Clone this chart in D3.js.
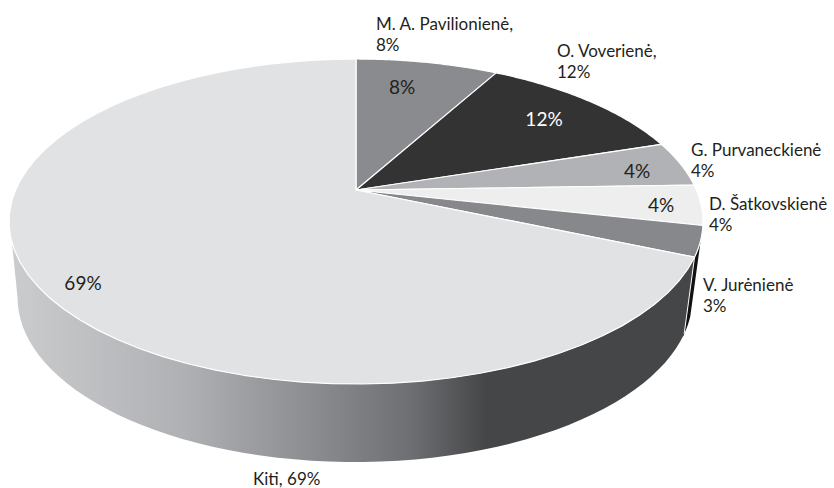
<!DOCTYPE html>
<meta charset="utf-8">
<script src="https://d3js.org/d3.v7.min.js"></script>
<style>
html, body { margin: 0; background: #fff; }
svg { display: block; }
text { font-family: Lato, "Open Sans", sans-serif; font-size: 17px; fill: #231f20; }
</style>
<body>
<script>
var names = ["M. A. Pavilionienė", "O. Voverienė", "G. Purvaneckienė", "D. Šatkovskienė", "V. Jurėnienė", "Kiti"];
var values = [8, 12, 4.49, 4, 3, 68.51];
var colors = ["#8a8b8e", "#333333", "#b1b2b5", "#eeeeee", "#87888b", "#e1e2e4"];
var inner = ["#231f20", "#ffffff", "#231f20", "#231f20", null, "#231f20"];

// outside labels, first line / second line
var outerLines = [
  ["M. A. Pavilionienė,", "8%"],
  ["O. Voverienė,", "12%"],
  ["G. Purvaneckienė", "4%"],
  ["D. Šatkovskienė", "4%"],
  ["V. Jurėnienė", "3%"],
  ["Kiti, 69%"]
];
var outerPos = [[376, 30], [557, 57], [691, 156], [709, 210], [703, 291], [253, 485]];
var innerPos = [[402, 94], [544, 126], [637, 178], [661, 212], null, [83, 290]];

var width = 834, height = 488;
var svg = d3.select("body").append("svg").attr("width", width).attr("height", height);

// the pie is seen in perspective, so the apex sits above the centre of the ellipse
var k = 0.194;
var top3d = { cx: 356, cy: 190, a: 340.4, b: 156.4 };
var low3d = { cx: 355, cy: 266, a: 331, b: 158 };

function project(p, ang, r) {
  var u = Math.sin(ang) * r, v = -Math.cos(ang) * r, w = 1 - k * v;
  return [p.cx + p.a * u / w, p.cy + p.b * v / w];
}

var pie = d3.pie().sort(null).value(function(d) { return d; });
var arcs = pie(values);
var line = d3.line();

function rimAngles(a0, a1) {
  return d3.range(0, 61).map(function(i) { return a0 + (a1 - a0) * i / 60; });
}
function rad(deg) { return deg * Math.PI / 180; }

var grad = svg.append("defs").append("linearGradient")
  .attr("id", "wall").attr("gradientUnits", "userSpaceOnUse")
  .attr("x1", 10).attr("x2", 700).attr("y1", 0).attr("y2", 0);
[[0, "#cbccce"], [0.25, "#b0b1b4"], [0.42, "#8f9093"], [0.58, "#6e6f72"], [0.69, "#454648"], [1, "#454648"]]
  .forEach(function(s) { grad.append("stop").attr("offset", s[0]).attr("stop-color", s[1]); });

var kiti = arcs[5];

// sliver of wall under V. Jurėnienė
var vj = arcs[4];
var vjAngles = rimAngles(vj.startAngle + (vj.endAngle - vj.startAngle) * 0.45, vj.endAngle + 0.02);
svg.append("path")
  .attr("d", line(vjAngles.map(function(a) { return project(top3d, a, 1); })
    .concat(vjAngles.slice().reverse().map(function(a) { return project(low3d, a, 1); }))) + "Z")
  .attr("fill", "#111111");

// side wall of the big slice, closed on the left by the silhouette edge
var wallTop = rimAngles(kiti.startAngle, rad(251.5));
var wallLow = rimAngles(kiti.startAngle, rad(258.8));
svg.append("path")
  .attr("d", line(wallTop.map(function(a) { return project(top3d, a, 1); })
    .concat(wallLow.slice().reverse().map(function(a) { return project(low3d, a, 1); }))) + "Z")
  .attr("fill", "url(#wall)");

// white edge between the two walls
svg.append("path")
  .attr("d", line([project(top3d, kiti.startAngle, 1), project(low3d, kiti.startAngle, 1)]))
  .attr("stroke", "#fff")
  .attr("stroke-width", 1)
  .attr("fill", "none");

// top face
svg.selectAll(".slice").data(arcs).enter().append("path")
  .attr("class", "slice")
  .attr("d", function(d) {
    var pts = rimAngles(d.startAngle, d.endAngle).map(function(a) { return project(top3d, a, 1); });
    pts.unshift(project(top3d, 0, 0));
    return line(pts) + "Z";
  })
  .attr("fill", function(d, i) { return colors[i]; })
  .attr("stroke", "#fff")
  .attr("stroke-width", 1.2)
  .attr("stroke-linejoin", "round");

// labels
values.forEach(function(v, i) {
  if (!innerPos[i]) return;
  svg.append("text")
    .attr("x", innerPos[i][0]).attr("y", innerPos[i][1])
    .attr("text-anchor", "middle")
    .style("fill", inner[i])
    .style("font-size", "19px")
    .text(Math.round(v) + "%");
});

outerLines.forEach(function(lines, i) {
  lines.forEach(function(t, j) {
    svg.append("text")
      .attr("x", outerPos[i][0]).attr("y", outerPos[i][1] + j * 21)
      .text(t);
  });
});
</script>
</body>
</html>
